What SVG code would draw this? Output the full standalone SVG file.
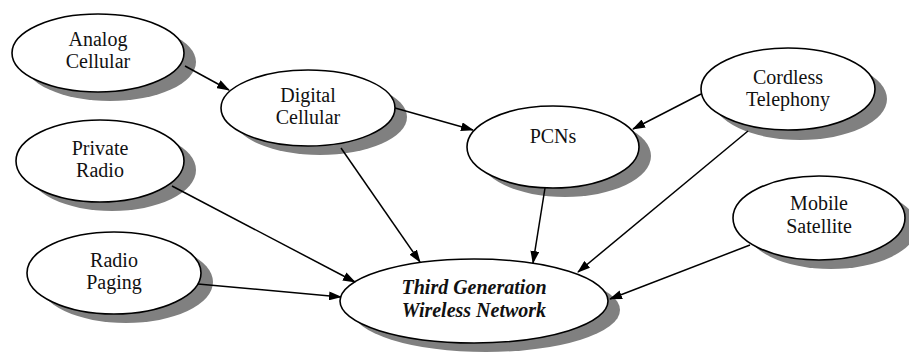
<svg xmlns="http://www.w3.org/2000/svg" width="909" height="353" viewBox="0 0 909 353">
<style>
.sh{fill:#808080;stroke:none}
.el{fill:#fff;stroke:#000;stroke-width:1.6}
text{font-family:'Liberation Serif','Times New Roman','DejaVu Serif',serif;font-size:20px;fill:#111;text-anchor:middle}
.tb{font-weight:bold;font-style:italic}
.c{stroke:#000;stroke-width:1.5;fill:none;marker-end:url(#ah)}
</style>
<defs>
<marker id="ah" markerUnits="userSpaceOnUse" markerWidth="13" markerHeight="9" refX="12" refY="4.5" orient="auto">
<path d="M0,0 L13,4.5 L0,9 z" fill="#000"/>
</marker>
</defs>
<rect width="909" height="353" fill="#fff"/>
<g id="analog">
<ellipse class="sh" cx="110" cy="62" rx="86" ry="39"/>
<ellipse class="el" cx="98" cy="53" rx="86" ry="39"/>
<text x="98" y="46" font-family="Liberation Serif, serif">Analog</text>
<text x="98" y="68" font-family="Liberation Serif, serif">Cellular</text>
</g>
<g id="digital">
<ellipse class="sh" cx="320" cy="117" rx="87" ry="38"/>
<ellipse class="el" cx="308" cy="108" rx="87" ry="38"/>
<text x="308" y="102" font-family="Liberation Serif, serif">Digital</text>
<text x="308" y="124" font-family="Liberation Serif, serif">Cellular</text>
</g>
<g id="private">
<ellipse class="sh" cx="112" cy="170" rx="84" ry="41"/>
<ellipse class="el" cx="100" cy="161" rx="84" ry="41"/>
<text x="100" y="155" font-family="Liberation Serif, serif">Private</text>
<text x="100" y="177" font-family="Liberation Serif, serif">Radio</text>
</g>
<g id="paging">
<ellipse class="sh" cx="126" cy="282" rx="87" ry="41"/>
<ellipse class="el" cx="114" cy="273" rx="87" ry="41"/>
<text x="114" y="267" font-family="Liberation Serif, serif">Radio</text>
<text x="114" y="289" font-family="Liberation Serif, serif">Paging</text>
</g>
<g id="pcns">
<ellipse class="sh" cx="565" cy="156" rx="86" ry="41"/>
<ellipse class="el" cx="553" cy="147" rx="86" ry="41"/>
<text x="553" y="143" font-family="Liberation Serif, serif">PCNs</text>
</g>
<g id="cordless">
<ellipse class="sh" cx="800" cy="99" rx="87" ry="41"/>
<ellipse class="el" cx="788" cy="89" rx="87" ry="41"/>
<text x="788" y="84" font-family="Liberation Serif, serif">Cordless</text>
<text x="788" y="106" font-family="Liberation Serif, serif">Telephony</text>
</g>
<g id="mobile">
<ellipse class="sh" cx="831" cy="227" rx="86" ry="42"/>
<ellipse class="el" cx="819" cy="218" rx="86" ry="42"/>
<text x="819" y="210" font-family="Liberation Serif, serif">Mobile</text>
<text x="819" y="233" font-family="Liberation Serif, serif">Satellite</text>
</g>
<g id="third">
<ellipse class="sh" cx="486" cy="310" rx="134" ry="42"/>
<ellipse class="el" cx="474" cy="301" rx="134" ry="42"/>
<text class="tb" x="474" y="294" font-family="Liberation Serif, serif">Third Generation</text>
<text class="tb" x="474" y="317" font-family="Liberation Serif, serif">Wireless Network</text>
</g>
<g id="connectors">
<line class="c" x1="185" y1="66" x2="229" y2="90"/>
<line class="c" x1="395" y1="108" x2="473" y2="130"/>
<line class="c" x1="701" y1="94" x2="633" y2="129"/>
<line class="c" x1="341" y1="148" x2="420" y2="262"/>
<line class="c" x1="172" y1="186" x2="355" y2="282"/>
<line class="c" x1="198" y1="284" x2="341" y2="297"/>
<line class="c" x1="545" y1="188" x2="533" y2="263"/>
<line class="c" x1="748" y1="131" x2="578" y2="272"/>
<line class="c" x1="750" y1="245" x2="610" y2="299"/>
</g>
</svg>
